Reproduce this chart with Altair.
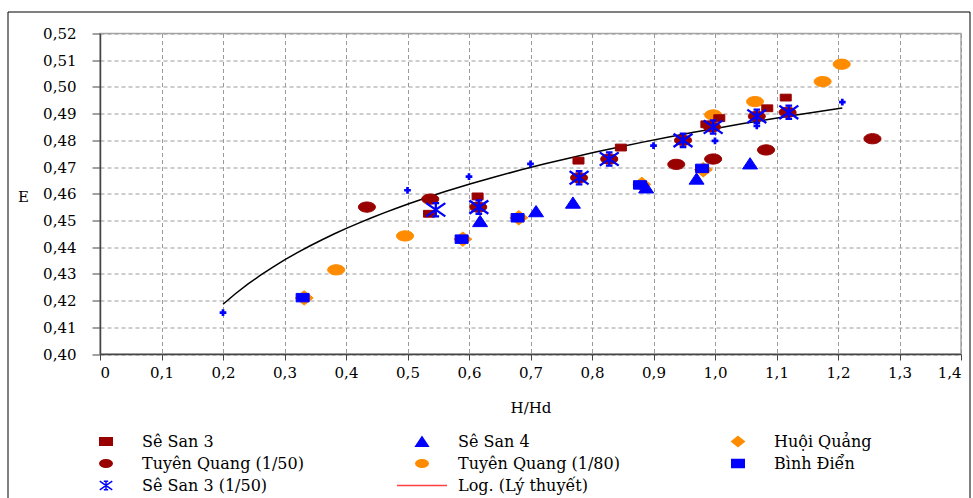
import altair as alt
import pandas as pd

# ---------------- data ----------------
x_ticks = [0, 0.1, 0.2, 0.3, 0.4, 0.5, 0.6, 0.7, 0.8, 0.9, 1.0, 1.1, 1.2, 1.3, 1.4]
y_ticks = [0.40, 0.41, 0.42, 0.43, 0.44, 0.45, 0.46, 0.47, 0.48, 0.49, 0.50, 0.51, 0.52]

ss3_x = [0.535, 0.614, 0.778, 0.847, 0.986, 1.007, 1.085, 1.115]
ss3_y = [0.4525, 0.459, 0.4724, 0.4773, 0.486, 0.4883, 0.492, 0.496]

tq50_x = [0.434, 0.537, 0.615, 0.779, 0.828, 0.937, 0.948, 0.997, 0.995, 1.068, 1.083, 1.118, 1.256]
tq50_y = [0.455, 0.458, 0.455, 0.466, 0.473, 0.471, 0.480, 0.473, 0.485, 0.489, 0.4764, 0.4905, 0.4806]

ss3_50_x = [0.546, 0.616, 0.779, 0.828, 0.948, 0.997, 1.068, 1.12]
ss3_50_y = [0.454, 0.455, 0.466, 0.473, 0.480, 0.485, 0.489, 0.4905]

ss4_x = [0.618, 0.709, 0.769, 0.888, 0.970, 1.057]
ss4_y = [0.4498, 0.4535, 0.4567, 0.4624, 0.4657, 0.4714]

tq80_x = [0.384, 0.496, 0.997, 1.065, 1.175, 1.206]
tq80_y = [0.4315, 0.4442, 0.4895, 0.4945, 0.502, 0.5085]

hq_x = [0.332, 0.59, 0.681, 0.881, 0.981]
hq_y = [0.421, 0.443, 0.451, 0.4635, 0.469]

bd_x = [0.3295, 0.588, 0.679, 0.878, 0.979]
bd_y = [0.4211, 0.443, 0.451, 0.4633, 0.4695]

lt_x = [0.2, 0.5, 0.6, 0.7, 0.9, 1.0, 1.068, 1.207]
lt_y = [0.4155, 0.4613, 0.4664, 0.4712, 0.478, 0.4798, 0.4854, 0.4943]

# legend order (filled column by column, 3 columns)
names = ["Sê San 3", "Tuyên Quang (1/50)", "Sê San 3 (1/50)",
         "Sê San 4", "Tuyên Quang (1/80)", "Log. (Lý thuyết)",
         "Huội Quảng", "Bình Điển"]

# ---------------- styles ----------------
DARKRED = "#990000"
BLUE = "#0000FF"
ORANGE = "#FF8C00"
LOGRED = "#FF4040"

RECT_S = "M-1,-0.62H1V0.62H-1Z"
ELLIPSE = "M-1,0A1,0.6,0,1,0,1,0A1,0.6,0,1,0,-1,0Z"
STAR = "M-1,-0.7L1,0.7M-1,0.7L1,-0.7M0,-0.7L0,0.7M-0.35,-0.7H0.35M-0.35,0.7H0.35"
TRI = "M0,-0.75L1,0.75L-1,0.75Z"
DIAM = "M0,-0.8L1,0L0,0.8L-1,0Z"
RECT_B = "M-1,-0.65H1V0.65H-1Z"
LINE = "M-4,0H4"

style = {
    "Sê San 3": (DARKRED, RECT_S),
    "Sê San 4": (BLUE, TRI),
    "Huội Quảng": (ORANGE, DIAM),
    "Tuyên Quang (1/50)": (DARKRED, ELLIPSE),
    "Tuyên Quang (1/80)": (ORANGE, ELLIPSE),
    "Bình Điển": (BLUE, RECT_B),
    "Sê San 3 (1/50)": (BLUE, STAR),
    "Log. (Lý thuyết)": (LOGRED, LINE),
}
colors = [style[n][0] for n in names]
shapes = [style[n][1] for n in names]

series_data = {
    "Sê San 3": (ss3_x, ss3_y),
    "Tuyên Quang (1/50)": (tq50_x, tq50_y),
    "Sê San 3 (1/50)": (ss3_50_x, ss3_50_y),
    "Sê San 4": (ss4_x, ss4_y),
    "Tuyên Quang (1/80)": (tq80_x, tq80_y),
    "Huội Quảng": (hq_x, hq_y),
    "Bình Điển": (bd_x, bd_y),
}

rows = []
for s, (xs, ys) in series_data.items():
    for a, b in zip(xs, ys):
        rows.append({"series": s, "H": a, "E": b})
df = pd.DataFrame(rows)
theory = pd.DataFrame({"H": lt_x, "E": lt_y})

FONT = "DejaVu Serif"

x_enc = alt.X("H:Q", scale=alt.Scale(domain=[0, 1.4], nice=False, zero=False),
              axis=alt.Axis(values=x_ticks, title="H/Hd",
                            labelExpr="datum.value == 0 ? '0' : replace(format(datum.value, '.1f'), '.', ',')",
                            tickSize=6, labelPadding=5, titleBaseline="middle", titleY=53,
                            gridDash=[4, 3]))
y_enc = alt.Y("E:Q", scale=alt.Scale(domain=[0.40, 0.52], nice=False, zero=False),
              axis=alt.Axis(values=y_ticks, title="E",
                            labelExpr="replace(format(datum.value, '.2f'), '.', ',')",
                            tickSize=8, labelPadding=16, titleAngle=0, titleX=-77, titleY=163,
                            titleAlign="center", titleBaseline="middle", gridDash=[4, 3]))

legend = alt.Legend(title=None, orient="none", legendX=-2, legendY=400, columns=3,
                    columnPadding=90, rowPadding=6, labelFont=FONT, labelFontSize=16,
                    labelOffset=28, symbolSize=156, symbolStrokeWidth=1.5, gridAlign="all",
                    labelLimit=300, padding=0, labelColor="black")

fill_enc = alt.Fill("series:N", scale=alt.Scale(domain=names, range=colors), legend=legend)
stroke_enc = alt.Stroke("series:N", scale=alt.Scale(domain=names, range=colors), legend=legend)
shape_enc = alt.Shape("series:N", scale=alt.Scale(domain=names, range=shapes), legend=legend)

marker_size = {
    "Tuyên Quang (1/80)": (289, 1),
    "Huội Quảng": (324, 1),
    "Tuyên Quang (1/50)": (289, 1),
    "Sê San 3": (121, 1),
    "Sê San 3 (1/50)": (361, 2.3),
    "Sê San 4": (225, 1),
    "Bình Điển": (169, 1),
}
draw_order = ["Tuyên Quang (1/80)", "Huội Quảng", "Tuyên Quang (1/50)", "Sê San 3",
              "Sê San 3 (1/50)", "Sê San 4", "Bình Điển"]

base = alt.Chart(df)
point_layers = []
for s in draw_order:
    sz, sw = marker_size[s]
    point_layers.append(
        base.transform_filter(alt.datum.series == s)
        .mark_point(filled=True, size=sz, strokeWidth=sw, opacity=1)
        .encode(x=x_enc, y=y_enc, fill=fill_enc, stroke=stroke_enc, shape=shape_enc)
    )

trend = (alt.Chart(theory)
         .transform_regression("H", "E", method="log")
         .mark_line(color="black", strokeWidth=1.5)
         .encode(x=x_enc, y=y_enc))

theory_pts = (alt.Chart(theory)
              .mark_point(shape="cross", filled=True, color=BLUE, size=45, opacity=1)
              .encode(x=x_enc, y=y_enc))

border = (alt.Chart(pd.DataFrame({"a": [0]}))
          .mark_rect(fillOpacity=0, stroke="black", strokeWidth=1)
          .encode(x=alt.value(-92), x2=alt.value(870), y=alt.value(-21.5), y2=alt.value(480)))

chart = (alt.layer(border, trend, *point_layers, theory_pts)
         .properties(width=861, height=320.5,
                     padding={"left": 100, "top": 33.5, "right": 12, "bottom": 144},
                     autosize="none", background="white")
         .configure_view(stroke="#A6A6A6", strokeWidth=1.5)
         .configure_axis(labelFont=FONT, labelFontSize=15, labelColor="black",
                         titleFont=FONT, titleFontSize=15, titleFontWeight="normal",
                         titleColor="black", domainColor="#444444", domainWidth=1.5,
                         tickColor="#444444", tickWidth=1, gridColor="#9A9A9A", gridWidth=1))

chart.save("out.html", embed_options={"renderer": "svg", "actions": False})
